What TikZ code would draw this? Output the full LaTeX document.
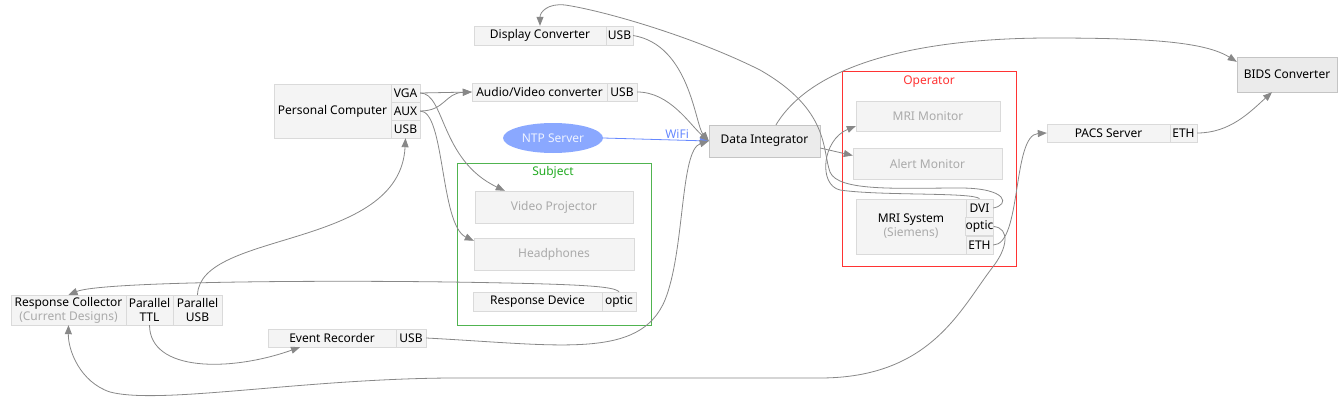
\documentclass[tikz,border=0pt]{standalone}
\usepackage{fontspec}
\setmainfont{Noto Sans}
\usepackage{tikz}
\usetikzlibrary{shapes.geometric, arrows.meta}

\definecolor{boxfill}{HTML}{F4F4F4}
\definecolor{boxline}{HTML}{DADADA}
\definecolor{hubfill}{HTML}{EBEBEB}
\definecolor{hubline}{HTML}{C4C4C4}
\definecolor{wiregray}{HTML}{888888}
\definecolor{faint}{HTML}{AAAAAA}
\definecolor{ntpblue}{HTML}{8AA8FF}
\definecolor{wifiblue}{HTML}{6688FF}
\definecolor{subjgreen}{RGB}{80,180,80}
\definecolor{subjtext}{HTML}{22AA22}
\definecolor{oprred}{HTML}{FF3333}

\begin{document}
\begin{tikzpicture}[x=1pt, y=-1pt,
    font=\fontsize{12}{14}\selectfont,
    box/.style={draw=boxline, fill=boxfill, inner sep=0pt, align=center},
    hub/.style={draw=hubline, fill=hubfill, inner sep=0pt},
    dim/.style={text=faint},
    wire/.style={draw=wiregray, line width=0.8pt, -{Triangle[length=9pt, width=7pt]}}]
    \useasboundingbox (0,0) rectangle (1344,404);

    % Clusters
    \draw[color=subjgreen, line width=1pt] (457,163) rectangle (651,325); \node[text=subjtext] (subject) at (553,172) {Subject};
    \draw[color=oprred, line width=1pt] (842,72) rectangle (1016,266); \node[text=oprred] (operator) at (929,82) {Operator};

    % Devices
    \node[box, minimum width=132, minimum height=19] (dcmain) at (540,35.5) {Display Converter};
    \node[box, minimum width=27, minimum height=19] (dcusb) at (619.5,35.5) {USB};
    \node[box, minimum width=135, minimum height=18] (avmain) at (539.5,92) {Audio/Video converter};
    \node[box, minimum width=30, minimum height=18] (avusb) at (622,92) {USB};
    \node[box, minimum width=117, minimum height=54] (pcmain) at (332.5,111) {Personal Computer};
    \node[box, minimum width=29, minimum height=18] (pcvga) at (405.5,93) {VGA};
    \node[box, minimum width=29, minimum height=18] (pcaux) at (405.5,111) {AUX};
    \node[box, minimum width=29, minimum height=18] (pcusb) at (405.5,129) {USB};
    \node[ellipse, fill=ntpblue, text=white!85!ntpblue, minimum width=100, minimum height=30, inner sep=0pt] (ntp) at (553,138) {NTP Server};
    \node[hub, minimum width=111, minimum height=32] (di) at (764.5,141) {Data Integrator};
    \node[box, dim, minimum width=158, minimum height=32] (vp) at (554,207) {Video Projector};
    \node[box, dim, minimum width=160, minimum height=32] (hp) at (554,254) {Headphones};
    \node[box, minimum width=129, minimum height=19] (rdmain) at (537.5,301.5) {Response Device};
    \node[box, minimum width=34, minimum height=19] (rdoptic) at (619,301.5) {optic};
    \node[box, dim, minimum width=144, minimum height=30] (mm) at (928,116) {MRI Monitor};
    \node[box, dim, minimum width=149, minimum height=31] (am) at (927.5,163.5) {Alert Monitor};
    \node[box, minimum width=110, minimum height=55] (mrsmain) at (911,226.5) {MRI System\\{\color{faint}(Siemens)}};
    \node[box, minimum width=27, minimum height=18.3] (mrsdvi) at (979.5,208) {DVI};
    \node[box, minimum width=27, minimum height=18.3] (mrsoptic) at (979.5,226.5) {optic};
    \node[box, minimum width=27, minimum height=18.3] (mrseth) at (979.5,245) {ETH};
    \node[box, minimum width=123, minimum height=18] (pacsmain) at (1108.5,133) {PACS Server};
    \node[box, minimum width=27, minimum height=18] (pacseth) at (1183.5,133) {ETH};
    \node[hub, minimum width=100, minimum height=35] (bids) at (1287,74.5) {BIDS Converter};
    \node[box, minimum width=115, minimum height=30] (rcmain) at (68.5,310) {Response Collector\\{\color{faint}(Current Designs)}};
    \node[box, minimum width=47, minimum height=30] (rcttl) at (149.5,310) {Parallel\\TTL};
    \node[box, minimum width=49, minimum height=30] (rcusb) at (197.5,310) {Parallel\\USB};
    \node[box, minimum width=128, minimum height=18] (ermain) at (332,338) {Event Recorder};
    \node[box, minimum width=30, minimum height=18] (erusb) at (411,338) {USB};

    % Connections
    \draw[wire, draw=wifiblue] (ntp.east) -- node[pos=0.7, above, text=wifiblue, inner sep=1pt] (wifi) {WiFi} (di.west);
    \draw[wire] (pcvga.east) -- (avmain.west);
    \draw[wire] (pcaux.east) .. controls (445,111) and (445,93) .. (avmain.west);
    \draw[wire] (pcvga.east) .. controls (445,93) and (440,160) .. ([xshift=30pt]vp.north west);
    \draw[wire] (pcaux.east) .. controls (445,111) and (440,225) .. ([yshift=-3pt]hp.north west);
    \draw[wire] (dcusb.east) .. controls (690,45) and (695,125) .. (di.west);
    \draw[wire] (avusb.east) .. controls (670,92) and (690,125) .. (di.west);
    \draw[wire] (erusb.east) .. controls (560,345) and (640,360) .. (665,300) .. controls (685,250) and (680,150) .. (di.west);
    \draw[wire] ([xshift=11.5pt]di.north) .. controls (815,60) and (930,38) .. (1050,38) .. controls (1150,38) and (1205,42) .. ([yshift=-5pt]bids.north west);
    \draw[wire] ([yshift=-7pt]di.east) -- ([yshift=8pt]am.west);
    \draw[wire] (mrsdvi.north) .. controls (972,192) and (880,196) .. (840,190) .. controls (818,185) and (822,140) .. ([yshift=-10pt]mm.west);
    \draw[wire] (mrsdvi.east) .. controls (1010,205) and (1008,188) .. (960,188) .. controls (900,188) and (838,192) .. (830,172) .. controls (822,150) and (830,110) .. (760,70) .. controls (690,35) and (600,10) .. (565,5) .. controls (548,3) and (540,12) .. (dcmain.north);
    \draw[wire] (mrsoptic.east) .. controls (1010,228) and (1008,248) .. (992,268) .. controls (960,310) and (930,378) .. (820,378) -- (450,378) .. controls (300,379) and (160,405) .. (110,392) .. controls (80,382) and (68,350) .. (rcmain.south);
    \draw[wire] (mrseth.east) .. controls (1022,245) and (1012,135) .. (pacsmain.west);
    \draw[wire] (pacseth.east) .. controls (1230,133) and (1250,112) .. ([xshift=-15pt]bids.south);
    \draw[wire] (rdoptic.north) .. controls (614,286) and (580,284) .. (450,282) .. controls (300,280) and (100,282) .. (rcmain.north);
    \draw[wire] (rcttl.south) .. controls (150,372) and (230,372) .. ([xshift=-32pt]ermain.south);
    \draw[wire] (rcusb.north) .. controls (200,230) and (400,250) .. (pcusb.south);
\end{tikzpicture}
\end{document}
